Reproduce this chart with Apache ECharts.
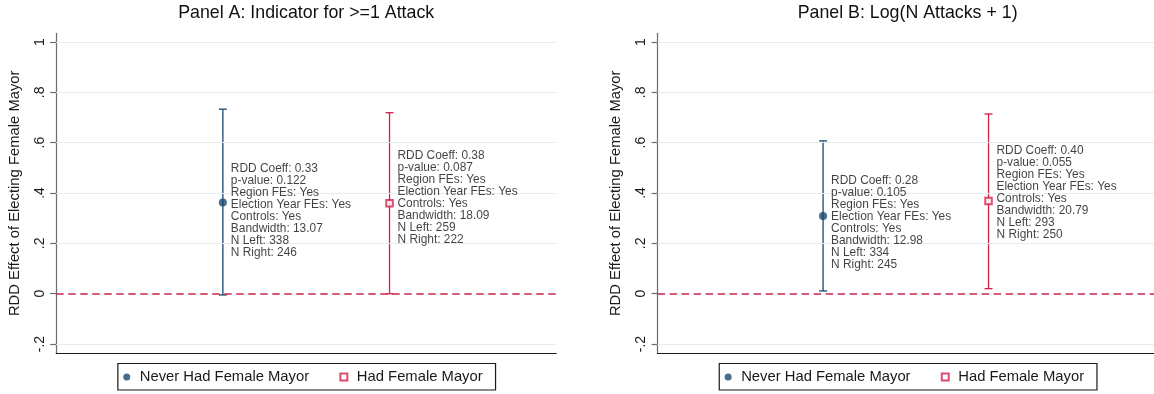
<!DOCTYPE html>
<html>
<head>
<meta charset="utf-8">
<script src="https://cdn.jsdelivr.net/npm/echarts@6/dist/echarts.min.js"></script>
<style>
  html, body { margin: 0; padding: 0; background: #fff; }
  #chart { width: 1154px; height: 394px; }
</style>
</head>
<body>
<div id="chart"></div>
<script>
// ---- data ----
const panelTitles = ['Panel A: Indicator for >=1 Attack', 'Panel B: Log(N Attacks + 1)'];
const groups = ['Never Had Female Mayor', 'Had Female Mayor'];
const groupX = [1, 2];
const yTicks = [-0.2, 0, 0.2, 0.4, 0.6, 0.8, 1];
const yTickLabels = ['-.2', '0', '.2', '.4', '.6', '.8', '1'];
const yTitle = 'RDD Effect of Electing Female Mayor';

// Panel A: plotted estimate and confidence interval per group
const estA = [0.362, 0.359];
const ciLowA = [-0.005, 0.000];
const ciHighA = [0.733, 0.719];
// Panel A: regression summaries
const coefA = ['0.33', '0.38'];
const pvalA = ['0.122', '0.087'];
const bandwidthA = ['13.07', '18.09'];
const nLeftA = [338, 259];
const nRightA = [246, 222];

// Panel B: plotted estimate and confidence interval per group
const estB = [0.309, 0.368];
const ciLowB = [0.011, 0.020];
const ciHighB = [0.607, 0.714];
// Panel B: regression summaries
const coefB = ['0.28', '0.40'];
const pvalB = ['0.105', '0.055'];
const bandwidthB = ['12.98', '20.79'];
const nLeftB = [334, 293];
const nRightB = [245, 250];

// ---- styling ----
const FONT = '"Liberation Sans", Arial, Helvetica, sans-serif';
const BLUE = '#1a476f';
const RED = '#d41f4b';
const ZERO_RED = '#c9284f';
const GRID_LINE = '#e4edef';
const Y_MIN = -0.2368, Y_MAX = 1.0345;

const panels = [
  { left: 56.2, est: estA, lo: ciLowA, hi: ciHighA, coef: coefA, pval: pvalA, bw: bandwidthA, nl: nLeftA, nr: nRightA },
  { left: 657.6, est: estB, lo: ciLowB, hi: ciHighB, coef: coefB, pval: pvalB, bw: bandwidthB, nl: nLeftB, nr: nRightB }
];
const PLOT_W = 500, PLOT_TOP = 33.3, PLOT_H = 320;

function tickLabel(v) {
  let best = 0;
  yTicks.forEach((t, i) => { if (Math.abs(t - v) < Math.abs(yTicks[best] - v)) best = i; });
  return yTickLabels[best];
}

// legend layout: measure entry texts so the two keys sit at fixed spots in the box
const LEG_FS = 14.8;
const ctx = document.createElement('canvas').getContext('2d');
ctx.font = LEG_FS + 'px ' + FONT;
const textW1 = ctx.measureText(groups[0]).width;
const textW2 = ctx.measureText(groups[1]).width;
const LEG_BOX_W = 376.7;
const LEG_ICON = 7;
const LEG_TEXT_PAD = 4.5;
const legPadLeft = 5.4;
const secondIconLeft = 221.5;
const itemExtra = LEG_ICON + 5 + LEG_TEXT_PAD;
const legGap = secondIconLeft - legPadLeft - itemExtra - textW1;
const legPadRight = Math.max(0, LEG_BOX_W - (secondIconLeft + itemExtra + textW2));

const grids = [], xAxes = [], yAxes = [], series = [], titles = [], legends = [];

panels.forEach((p, k) => {
  grids.push({ left: p.left, top: PLOT_TOP, width: PLOT_W, height: PLOT_H, containLabel: false });
  titles.push({
    text: panelTitles[k], left: p.left + PLOT_W / 2, top: 4.5, textAlign: 'center', padding: 0,
    textStyle: { fontFamily: FONT, fontSize: 17.8, fontWeight: 'normal', color: '#111' }
  });
  xAxes.push({
    gridIndex: k, type: 'value', min: 0, max: 3,
    axisLine: { show: true, onZero: false, lineStyle: { color: '#1a1a1a', width: 1.2 } },
    axisTick: { show: false }, axisLabel: { show: false }, splitLine: { show: false }
  });
  yAxes.push({
    gridIndex: k, type: 'value', min: Y_MIN, max: Y_MAX,
    axisLine: { show: true, lineStyle: { color: '#6b6b6b', width: 1.2 } },
    axisTick: { show: true, length: 6, customValues: yTicks, lineStyle: { color: '#6b6b6b', width: 1.2 } },
    axisLabel: {
      customValues: yTicks, rotate: 90, margin: 9, formatter: tickLabel,
      fontFamily: FONT, fontSize: 14, color: '#1a1a1a'
    },
    splitLine: { show: false },
    name: yTitle, nameLocation: 'middle', nameRotate: 90, nameGap: 34,
    nameTextStyle: { fontFamily: FONT, fontSize: 14.8, color: '#1a1a1a' }
  });

  // horizontal grid lines
  series.push({
    type: 'line', xAxisIndex: k, yAxisIndex: k, data: [], z: 1, silent: true,
    markLine: {
      silent: true, symbol: 'none', label: { show: false },
      lineStyle: { color: GRID_LINE, width: 1.2, type: 'solid' },
      data: yTicks.filter(v => v !== 0).map(v => ({ yAxis: v }))
    }
  });
  // dashed zero reference line
  series.push({
    type: 'line', xAxisIndex: k, yAxisIndex: k, data: [], z: 5, silent: true,
    color: ZERO_RED,
    lineStyle: { color: ZERO_RED },
    itemStyle: { color: ZERO_RED },
    markLine: {
      silent: true, symbol: 'none', label: { show: false },
      lineStyle: { color: ZERO_RED, width: 1.5, type: [7.5, 4.5], opacity: 1 },
      data: [{ yAxis: 0, lineStyle: { color: ZERO_RED, width: 1.5, type: [7.5, 4.5] } }]
    }
  });

  groups.forEach((g, i) => {
    const color = i === 0 ? BLUE : RED;
    // confidence interval bars with caps
    series.push({
      type: 'custom', name: g + ' interval', xAxisIndex: k, yAxisIndex: k, z: 3, silent: true,
      data: [[groupX[i], p.lo[i], p.hi[i]]],
      encode: { x: 0, y: [1, 2] },
      renderItem: function (params, api) {
        const x = api.value(0);
        const a = api.coord([x, api.value(1)]);
        const b = api.coord([x, api.value(2)]);
        const st = { stroke: color, lineWidth: 1.3, fill: null };
        return {
          type: 'group', children: [
            { type: 'line', shape: { x1: a[0], y1: a[1], x2: b[0], y2: b[1] }, style: st },
            { type: 'line', shape: { x1: a[0] - 4, y1: a[1], x2: a[0] + 4, y2: a[1] }, style: st },
            { type: 'line', shape: { x1: b[0] - 4, y1: b[1], x2: b[0] + 4, y2: b[1] }, style: st }
          ]
        };
      }
    });
    // point estimate
    series.push({
      type: 'scatter', name: g, xAxisIndex: k, yAxisIndex: k, z: 6,
      symbol: i === 0 ? 'circle' : 'emptyRect',
      symbolSize: i === 0 ? 8 : 6.5,
      itemStyle: i === 0 ? { color: BLUE } : { color: RED, borderColor: RED, borderWidth: 1.5 },
      data: [[groupX[i], p.est[i]]]
    });
    // regression summary placed at the reported coefficient
    const lines = [
      'RDD Coeff: ' + p.coef[i],
      'p-value: ' + p.pval[i],
      'Region FEs: Yes',
      'Election Year FEs: Yes',
      'Controls: Yes',
      'Bandwidth: ' + p.bw[i],
      'N Left: ' + p.nl[i],
      'N Right: ' + p.nr[i]
    ];
    series.push({
      type: 'scatter', name: g + ' summary', xAxisIndex: k, yAxisIndex: k, z: 7, silent: true,
      symbolSize: 0,
      data: [[groupX[i], parseFloat(p.coef[i])]],
      label: {
        show: true, position: 'right', distance: 8,
        formatter: lines.join('\n'),
        fontFamily: FONT, fontSize: 11.9, lineHeight: 12, color: '#111'
      }
    });
  });

  legends.push({
    left: p.left + PLOT_W / 2 - LEG_BOX_W / 2, top: 363.5, orient: 'horizontal',
    padding: [5, legPadRight, 4.5, legPadLeft],
    itemGap: legGap, itemWidth: LEG_ICON, itemHeight: LEG_ICON,
    borderColor: '#1a1a1a', borderWidth: 1.2, selectedMode: false,
    textStyle: { fontFamily: FONT, fontSize: LEG_FS, color: '#1a1a1a', lineHeight: 17, padding: [0, 0, 0, LEG_TEXT_PAD] },
    data: [
      { name: groups[0], icon: 'circle', itemStyle: { color: BLUE } },
      { name: groups[1], icon: 'emptyRect', itemStyle: { color: RED, borderColor: RED, borderWidth: 1.5 } }
    ]
  });
});

const chart = echarts.init(document.getElementById('chart'), null, { renderer: 'canvas' });
chart.setOption({
  animation: false,
  backgroundColor: '#ffffff',
  title: titles,
  grid: grids,
  xAxis: xAxes,
  yAxis: yAxes,
  legend: legends,
  series: series
});
</script>
</body>
</html>
